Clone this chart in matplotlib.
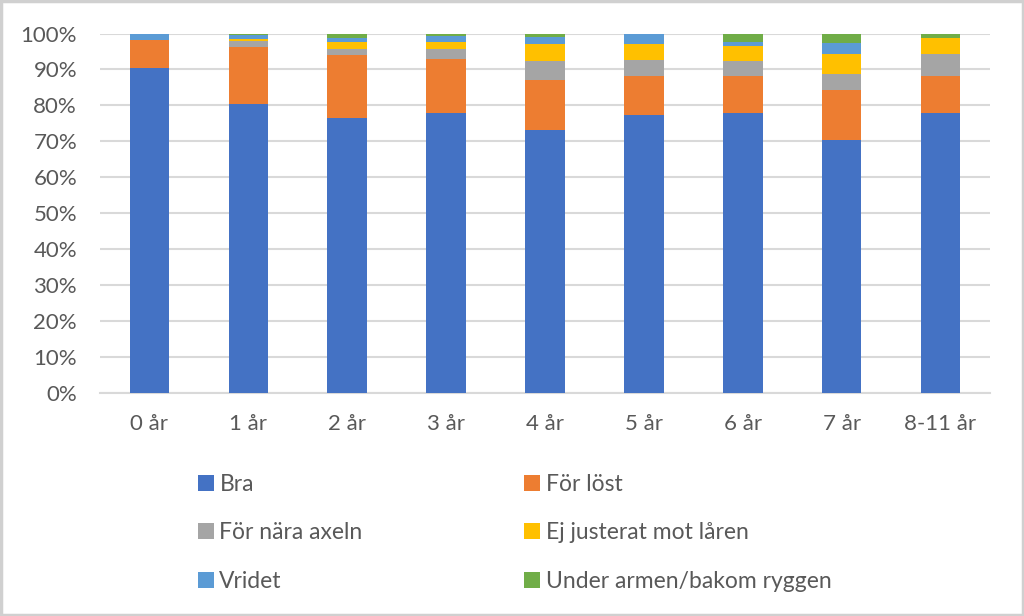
import matplotlib
matplotlib.use("Agg")
import matplotlib.pyplot as plt
from matplotlib.patches import Rectangle, Patch
from matplotlib.ticker import PercentFormatter
import numpy as np

categories = ["0 år", "1 år", "2 år", "3 år", "4 år", "5 år", "6 år", "7 år", "8-11 år"]
series_names = ["Bra", "För löst", "För nära axeln", "Ej justerat mot låren", "Vridet", "Under armen/bakom ryggen"]
bra = [90.5, 80.3, 76.6, 78.0, 73.1, 77.3, 78.0, 70.3, 78.0]
for_lost = [7.6, 16.0, 17.4, 14.8, 13.9, 10.9, 10.2, 14.1, 10.2]
for_nara = [0.0, 1.7, 1.7, 3.0, 5.4, 4.5, 4.2, 4.2, 6.0]
ej_justerat = [0.0, 0.6, 2.0, 1.9, 4.6, 4.3, 4.2, 5.7, 4.6]
vridet = [1.9, 0.9, 1.1, 1.6, 1.9, 3.0, 0.9, 3.0, 0.0]
under_armen = [0.0, 0.5, 1.2, 0.7, 1.1, 0.0, 2.5, 2.8, 1.1]
colors = ["#4472C4", "#ED7D31", "#A5A5A5", "#FFC000", "#5B9BD5", "#70AD47"]

plt.rcParams['font.family'] = ['Lato', 'DejaVu Sans']
text_color = "#595959"
grid_color = "#d9d9d9"

fig = plt.figure(figsize=(10.24, 6.16), dpi=100)
ax = fig.add_axes([100/1024, (616-393)/616, 890/1024, (393-33.5)/616])

x = np.arange(len(categories))
data = [bra, for_lost, for_nara, ej_justerat, vridet, under_armen]
bottom = np.zeros(len(categories))
handles = []
for name, vals, c in zip(series_names, data, colors):
    vals = np.array(vals)
    ax.bar(x, vals, 0.4, bottom=bottom, color=c, label=name, zorder=3)
    bottom += vals
    handles.append(Patch(facecolor=c, label=name))

ax.set_xlim(-0.5, len(categories) - 0.5)
ax.set_ylim(0, 100)
ax.set_yticks(np.arange(0, 101, 10))
ax.yaxis.set_major_formatter(PercentFormatter(decimals=0))
ax.set_xticks(x)
ax.set_xticklabels(categories)
ax.grid(axis='y', color=grid_color, linewidth=1.5, zorder=0)
for s in ['top', 'right', 'left']:
    ax.spines[s].set_visible(False)
ax.spines['bottom'].set_color(grid_color)
ax.spines['bottom'].set_linewidth(1.5)
ax.tick_params(axis='both', length=0, labelsize=16, colors=text_color)
ax.tick_params(axis='y', pad=16.5)
ax.tick_params(axis='x', pad=15)

order = [0, 2, 4, 1, 3, 5]
leg = fig.legend([handles[i] for i in order], [series_names[i] for i in order],
                 ncol=2, loc='upper left', bbox_to_anchor=(177/1024, 1 - 453/616),
                 frameon=False, fontsize=16.5, labelcolor=text_color,
                 handlelength=0.7, handleheight=0.7, handletextpad=0.25,
                 columnspacing=7.05, labelspacing=1.21)

fig.patches.append(Rectangle((0.001, 0.001), 0.998, 0.998, transform=fig.transFigure,
                             fill=False, edgecolor="#d0d0d0", linewidth=2.5))

fig.savefig("out.png", dpi=100, facecolor="white")
